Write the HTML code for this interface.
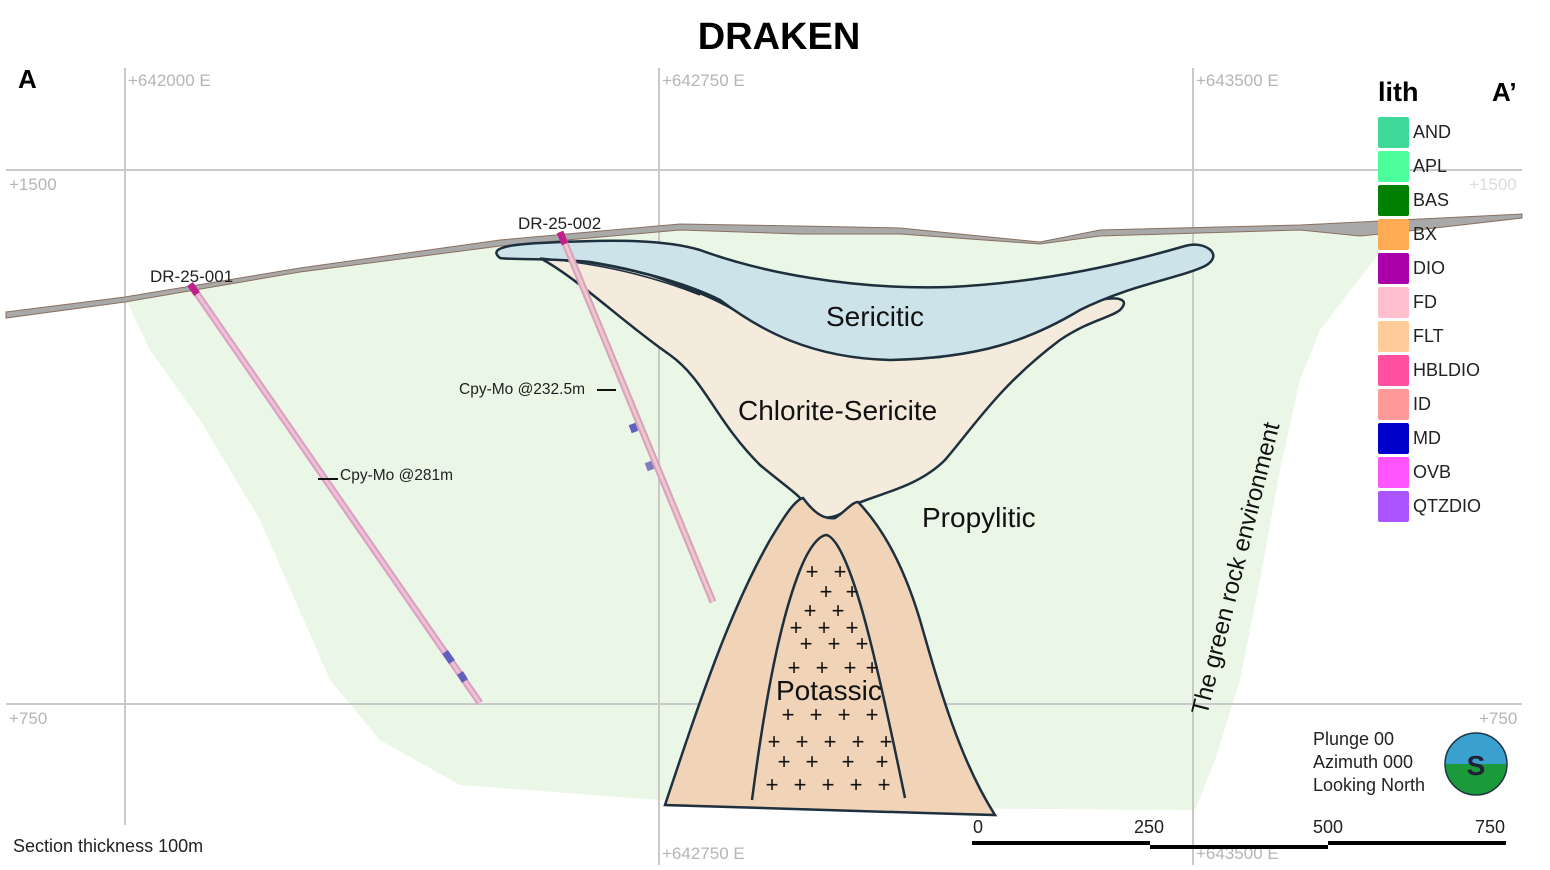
<!DOCTYPE html>
<html><head><meta charset="utf-8"><style>
body{margin:0;background:#fff;}
svg{display:block;font-family:"Liberation Sans",sans-serif;}
</style></head><body>
<svg width="1550" height="870" viewBox="0 0 1550 870">
<rect width="1550" height="870" fill="#fff"/>
<path d="M125,297 L300,268 L500,242 L680,226 L900,230 L1040,244 L1100,232 L1300,226 L1400,228 L1370,265 L1320,330 L1300,380 L1280,470 L1260,580 L1240,680 L1215,760 L1195,810 L900,808 L660,800 L460,785 L380,740 L330,680 L260,520 L200,420 L150,350 Z" fill="#eaf6e6"/>
<g stroke="#c9c9c9" stroke-width="2">
<line x1="125" y1="68" x2="125" y2="825"/>
<line x1="659" y1="68" x2="659" y2="865"/>
<line x1="1193" y1="68" x2="1193" y2="865"/>
<line x1="6" y1="170" x2="1522" y2="170"/>
<line x1="6" y1="704" x2="1522" y2="704"/>
</g>
<g fill="#b5b5b5" font-size="17">
<text x="128" y="86">+642000 E</text>
<text x="662" y="86">+642750 E</text>
<text x="1196" y="86">+643500 E</text>
<text x="9" y="190">+1500</text>
<text x="1469" y="190" fill="#dcdcdc">+1500</text>
<text x="9" y="724">+750</text>
<text x="1479" y="724">+750</text>
<text x="662" y="859">+642750 E</text>
<text x="1196" y="859">+643500 E</text>
</g>
<path d="M6,312 L125,297 L300,268 L500,240 L680,224 L800,226 L900,228 L1040,242 L1100,230 L1300,225 L1400,220 L1522,214 L1522,218 L1400,232 L1360,236 L1300,230 L1100,236 L1040,244 L900,234 L800,234 L680,230 L500,246 L300,272 L125,302 L6,318 Z" fill="#a9a9a9" stroke="#8a7060" stroke-width="1"/>
<path d="M540,258 C580,280 620,320 670,355 C705,380 715,420 760,465 C790,490 800,495 805,505 C812,520 835,522 848,508 C870,495 915,490 945,460 C975,425 1000,385 1060,340 C1090,320 1110,318 1120,310 C1130,300 1120,296 1100,300 C1060,320 1000,345 940,357 C880,362 820,352 760,325 C720,300 700,292 650,275 C600,262 560,258 540,258 Z" fill="#f5ebdd" stroke="#1e2f3e" stroke-width="2.5"/>
<path d="M500,258 C490,250 500,245 540,243 C600,240 660,238 700,250 C760,272 850,290 950,287 C1050,282 1130,262 1185,246 C1205,240 1225,255 1205,266 C1180,278 1130,285 1080,310 C1030,340 980,358 890,360 C810,358 760,330 720,300 C690,285 640,270 590,262 C550,258 510,260 500,258 Z" fill="#cde3ea" stroke="#1e2f3e" stroke-width="2.5"/>
<path d="M540,258 C600,264 650,275 700,295" fill="none" stroke="#1e2f3e" stroke-width="1.5"/>
<path d="M665,805 C700,700 730,610 770,540 C785,515 795,500 803,498 C812,510 822,520 835,518 C845,512 852,502 858,502 C885,530 905,570 920,620 C940,690 960,760 995,815 C880,812 760,808 665,805 Z" fill="#f1d4b8" stroke="#1e2f3e" stroke-width="2.5"/>
<path d="M752,800 C765,700 780,620 800,570 C810,545 820,535 827,535 C840,540 855,580 870,640 C885,700 895,750 905,798" fill="none" stroke="#1e2f3e" stroke-width="2.5"/>
<!-- drillholes on top -->
<line x1="193" y1="288" x2="480" y2="703" stroke="#d9a0c0" stroke-width="7"/>
<line x1="193" y1="288" x2="480" y2="703" stroke="#eec0d8" stroke-width="3"/>
<line x1="562" y1="236" x2="713" y2="602" stroke="#d9a0c0" stroke-width="7"/>
<line x1="562" y1="236" x2="713" y2="602" stroke="#ecc8c8" stroke-width="3"/>
<line x1="190" y1="284" x2="197" y2="294" stroke="#c0208a" stroke-width="7"/>
<line x1="560" y1="232" x2="565" y2="244" stroke="#c0208a" stroke-width="7"/>
<line x1="445" y1="652" x2="452" y2="662" stroke="#6060c0" stroke-width="7"/>
<line x1="460" y1="673" x2="465" y2="681" stroke="#6060c0" stroke-width="7"/>
<line x1="632" y1="424" x2="635" y2="432" stroke="#6060c0" stroke-width="7"/>
<line x1="648" y1="462" x2="651" y2="470" stroke="#8080c0" stroke-width="7"/>
<g font-size="22" fill="#111" text-anchor="middle">
<text x="812" y="579">+</text><text x="840" y="579">+</text>
<text x="826" y="599">+</text><text x="852" y="599">+</text>
<text x="810" y="618">+</text><text x="838" y="618">+</text>
<text x="796" y="635">+</text><text x="824" y="635">+</text><text x="852" y="635">+</text>
<text x="806" y="651">+</text><text x="834" y="651">+</text><text x="862" y="651">+</text>
<text x="794" y="675">+</text><text x="822" y="675">+</text><text x="850" y="675">+</text><text x="872" y="675">+</text>
<text x="788" y="722">+</text><text x="816" y="722">+</text><text x="844" y="722">+</text><text x="872" y="722">+</text>
<text x="774" y="749">+</text><text x="802" y="749">+</text><text x="830" y="749">+</text><text x="858" y="749">+</text><text x="886" y="749">+</text>
<text x="784" y="769">+</text><text x="812" y="769">+</text><text x="848" y="769">+</text><text x="882" y="769">+</text>
<text x="772" y="792">+</text><text x="800" y="792">+</text><text x="828" y="792">+</text><text x="856" y="792">+</text><text x="884" y="792">+</text>
</g>
<g font-size="28" fill="#111">
<text x="826" y="326">Sericitic</text>
<text x="738" y="420">Chlorite-Sericite</text>
<text x="922" y="527">Propylitic</text>
<text x="776" y="700">Potassic</text>
<text transform="translate(1207,716) rotate(-76)" font-size="24">The green rock environment</text>
</g>
<g font-size="17" fill="#222">
<text x="150" y="282">DR-25-001</text>
<text x="518" y="229">DR-25-002</text>
<text x="459" y="394" font-size="15.5">Cpy-Mo @232.5m</text>
<text x="340" y="480" font-size="15.5">Cpy-Mo @281m</text>
</g>
<line x1="597" y1="390" x2="616" y2="390" stroke="#111" stroke-width="2"/>
<line x1="318" y1="479" x2="338" y2="479" stroke="#111" stroke-width="2"/>
<text x="779" y="49" font-size="38" font-weight="bold" text-anchor="middle" fill="#000">DRAKEN</text>
<text x="18" y="88" font-size="26" font-weight="bold">A</text>
<text x="1492" y="101" font-size="26" font-weight="bold">A’</text>
<text x="1378" y="101" font-size="27" font-weight="bold">lith</text>
<g font-size="18" fill="#222">
<rect x="1378" y="117" width="31" height="31" fill="#40d898" rx="2"/><text x="1413" y="138">AND</text>
<rect x="1378" y="151" width="31" height="31" fill="#4cff9c" rx="2"/><text x="1413" y="172">APL</text>
<rect x="1378" y="185" width="31" height="31" fill="#008000" rx="2"/><text x="1413" y="206">BAS</text>
<rect x="1378" y="219" width="31" height="31" fill="#ffaa55" rx="2"/><text x="1413" y="240">BX</text>
<rect x="1378" y="253" width="31" height="31" fill="#aa00aa" rx="2"/><text x="1413" y="274">DIO</text>
<rect x="1378" y="287" width="31" height="31" fill="#ffbfcc" rx="2"/><text x="1413" y="308">FD</text>
<rect x="1378" y="321" width="31" height="31" fill="#ffcc99" rx="2"/><text x="1413" y="342">FLT</text>
<rect x="1378" y="355" width="31" height="31" fill="#ff4fa0" rx="2"/><text x="1413" y="376">HBLDIO</text>
<rect x="1378" y="389" width="31" height="31" fill="#ff9a9a" rx="2"/><text x="1413" y="410">ID</text>
<rect x="1378" y="423" width="31" height="31" fill="#0000cc" rx="2"/><text x="1413" y="444">MD</text>
<rect x="1378" y="457" width="31" height="31" fill="#ff55ff" rx="2"/><text x="1413" y="478">OVB</text>
<rect x="1378" y="491" width="31" height="31" fill="#aa55ff" rx="2"/><text x="1413" y="512">QTZDIO</text>
</g>
<g font-size="18" fill="#222">
<text x="1313" y="745">Plunge 00</text>
<text x="1313" y="768">Azimuth 000</text>
<text x="1313" y="791">Looking North</text>
</g>
<defs><clipPath id="c"><circle cx="1476" cy="764" r="31"/></clipPath></defs>
<g clip-path="url(#c)">
<rect x="1440" y="730" width="80" height="34" fill="#3aa0d0"/>
<rect x="1440" y="764" width="80" height="40" fill="#1a9a3a"/>
</g>
<circle cx="1476" cy="764" r="31" fill="none" stroke="#234" stroke-width="1.5"/>
<text x="1476" y="775" font-size="28" font-weight="bold" text-anchor="middle" fill="#223">S</text>
<g font-size="18" fill="#222">
<text x="973" y="833">0</text><text x="1134" y="833">250</text><text x="1313" y="833">500</text><text x="1475" y="833">750</text>
</g>
<g stroke="#000" stroke-width="4">
<line x1="972" y1="843" x2="1150" y2="843"/>
<line x1="1150" y1="847" x2="1328" y2="847"/>
<line x1="1328" y1="843" x2="1506" y2="843"/>
</g>
<text x="13" y="852" font-size="18" fill="#222">Section thickness 100m</text>
</svg>
</body></html>
